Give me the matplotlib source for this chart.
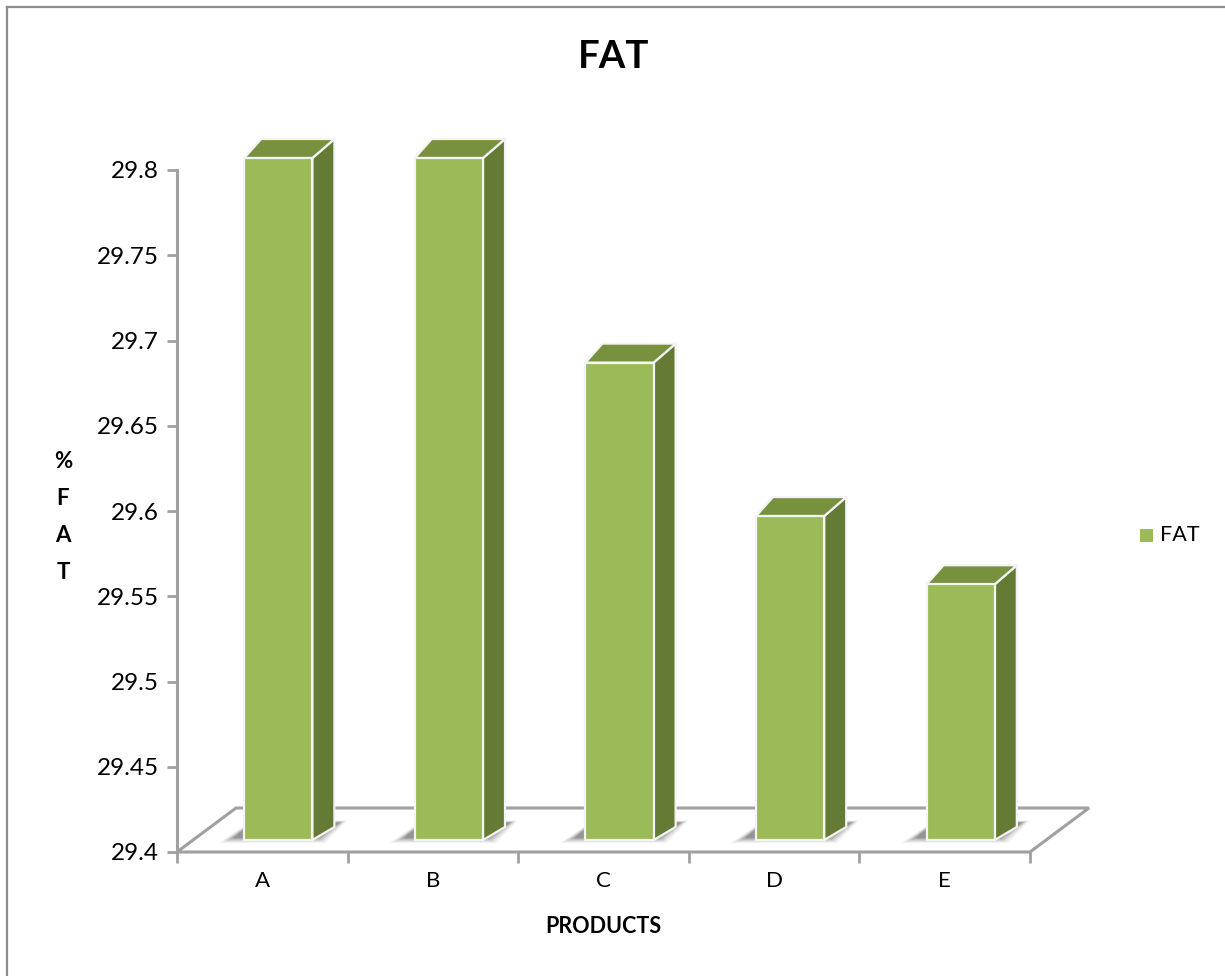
import matplotlib.pyplot as plt
from matplotlib.patches import Polygon, Rectangle

plt.rcParams['font.family'] = ['Lato', 'DejaVu Sans']

# data
products = ['A', 'B', 'C', 'D', 'E']
fat = [29.80, 29.80, 29.68, 29.59, 29.55]
yticks = [29.4, 29.45, 29.5, 29.55, 29.6, 29.65, 29.7, 29.75, 29.8]

W, H = 1225, 976
fig = plt.figure(figsize=(W / 100, H / 100), dpi=100)

# plot area in pixels (left, top, right, bottom)
L, T, R, B = 177, 170, 1030, 852
ax = fig.add_axes([L / W, 1 - B / H, (R - L) / W, (B - T) / H])
ymin, ymax = 29.4, 29.8
ax.set_xlim(0, len(products))
ax.set_ylim(ymin, ymax)
ax.set_facecolor('none')
for s in ax.spines.values():
    s.set_visible(False)

# pixel -> data unit conversion for the fake 3d offsets
px_x = len(products) / (R - L)
px_y = (ymax - ymin) / (B - T)

GRAY = '#a0a0a0'
FRONT = '#9bbb59'
SIDE = '#657b35'
TOP = '#77913f'

# floor
fdx, fdy = 59 * px_x, 44 * px_y
floor = Polygon([(0, ymin), (5, ymin), (5 + fdx, ymin + fdy), (fdx, ymin + fdy)],
                closed=True, facecolor='white', edgecolor=GRAY, lw=2.2,
                clip_on=False, zorder=1)
ax.add_patch(floor)

# bars
bw = 0.4
off_x, off_y = 16 * px_x, 12 * px_y      # bar front face sits a bit behind floor front
for i, v in enumerate(fat):
    x0 = i + 0.5 - bw / 2 + off_x
    x1 = x0 + bw
    y0 = ymin + off_y
    y1 = v + off_y
    # soft shadow on the floor, darkest next to the bar foot
    for k, a in enumerate([0.06, 0.09, 0.13, 0.18, 0.24]):
        g = (5 - k) * 3.5
        sh = Polygon([(x0 - (8 + g) * px_x, y0 + (3 - g * 0.35) * px_y),
                      (x1 + (4 + g * 0.5) * px_x, y0 + (3 - g * 0.35) * px_y),
                      (x1 + (26 + g * 0.5) * px_x, y0 + (17 + g * 0.15) * px_y),
                      (x0 + 8 * px_x, y0 + (17 + g * 0.15) * px_y)],
                     closed=True, facecolor='#3a3a3a', edgecolor='none',
                     alpha=a, zorder=2)
        ax.add_patch(sh)
    side = Polygon([(x1, y0), (x1, y1), (x1 + 22 * px_x, y1 + 19 * px_y),
                    (x1 + 22 * px_x, y0 + 13 * px_y)],
                   closed=True, facecolor=SIDE, edgecolor='#f4f4f4', lw=1.6,
                   joinstyle='round', zorder=3, clip_on=False)
    top = Polygon([(x0, y1), (x1, y1), (x1 + 22 * px_x, y1 + 19 * px_y),
                   (x0 + 17 * px_x, y1 + 19 * px_y)],
                  closed=True, facecolor=TOP, edgecolor='#f4f4f4', lw=1.6,
                  joinstyle='round', zorder=3, clip_on=False)
    front = Rectangle((x0, y0), bw, v - ymin, facecolor=FRONT,
                      edgecolor='#f4f4f4', lw=1.6, zorder=4, clip_on=False)
    ax.add_patch(side)
    ax.add_patch(top)
    ax.add_patch(front)

# y axis line and ticks
ax.plot([0, 0], [ymin, ymax], color=GRAY, lw=2.2, clip_on=False, zorder=5)
ax.set_yticks(yticks)
ax.set_yticklabels([f'{t:g}' for t in yticks])
ax.tick_params(axis='y', length=7, width=2, color=GRAY, labelsize=17.5, pad=6)

# x ticks on category boundaries, labels in between
ax.set_xticks(range(len(products) + 1))
ax.set_xticklabels([''] * (len(products) + 1))
ax.tick_params(axis='x', length=8, width=2, color=GRAY)
for i, p in enumerate(products):
    ax.text(i + 0.5, ymin - 19 * px_y, p, ha='center', va='top', fontsize=16)

ax.text(2.5, ymin - 64 * px_y, 'PRODUCTS', ha='center', va='top',
        fontsize=15.5, fontweight='bold')

# y axis label, one letter per line
for k, ch in enumerate(['%', 'F', 'A', 'T']):
    fig.text(63 / W, 1 - (461 + 37.3 * k) / H, ch, ha='center', va='center',
             fontsize=16, fontweight='bold')

fig.text(614 / W, 1 - 57 / H, 'FAT', ha='center', va='center',
         fontsize=27.5, fontweight='bold')

# legend
fig.patches.append(Rectangle((1140 / W, 1 - 542 / H), 13 / W, 13 / H,
                             transform=fig.transFigure, facecolor=FRONT,
                             edgecolor='none'))
fig.text(1160 / W, 1 - 535 / H, 'FAT', ha='left', va='center', fontsize=15.5)

# chart area border (left and top edges)
fig.add_artist(plt.Line2D([6.5 / W, 6.5 / W], [0, 1 - 6.5 / H], color='#8c8c8c',
                          lw=1.6, transform=fig.transFigure))
fig.add_artist(plt.Line2D([6.5 / W, 1], [1 - 6.5 / H, 1 - 6.5 / H], color='#8c8c8c',
                          lw=1.6, transform=fig.transFigure))

fig.savefig('out.png', dpi=100, facecolor='white')
